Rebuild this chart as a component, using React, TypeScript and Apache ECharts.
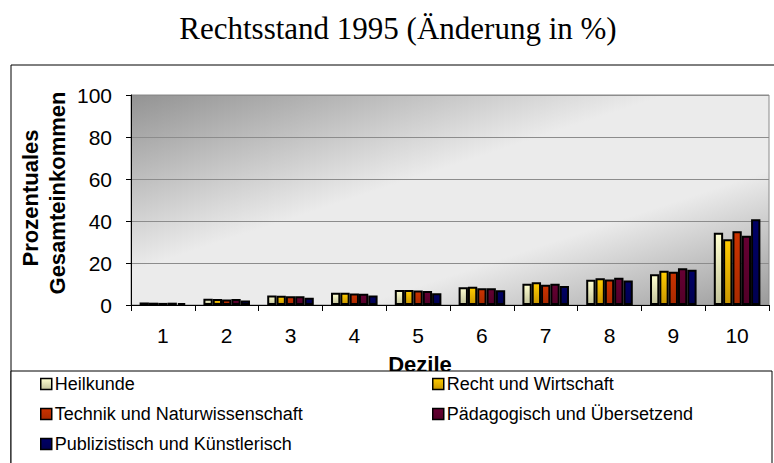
import React, { useEffect, useRef } from "react";
import * as echarts from "echarts";

const categories = ["1", "2", "3", "4", "5", "6", "7", "8", "9", "10"];
const seriesNames = [
  "Heilkunde",
  "Recht und Wirtschaft",
  "Technik und Naturwissenschaft",
  "Pädagogisch und Übersetzend",
  "Publizistisch und Künstlerisch",
];
const heilkunde = [1.2, 3.0, 4.5, 5.8, 7.2, 8.5, 10.1, 12.0, 14.6, 34.4];
const rechtWirtschaft = [1.1, 2.8, 4.4, 5.8, 7.2, 8.7, 10.8, 12.7, 16.3, 31.3];
const technik = [1.0, 2.6, 4.2, 5.5, 6.9, 8.0, 9.7, 12.1, 15.8, 35.1];
const paedagogisch = [1.1, 2.8, 4.2, 5.3, 6.7, 8.0, 10.1, 13.0, 17.5, 33.0];
const publizistisch = [0.9, 2.2, 3.5, 4.5, 5.6, 7.0, 9.0, 11.7, 16.8, 40.8];
const yTicks = [0, 20, 40, 60, 80, 100];

const seriesData = [heilkunde, rechtWirtschaft, technik, paedagogisch, publizistisch];
const colorsTop = ["#ffffd0", "#ffcc00", "#cc3300", "#660033", "#000066"];
const colorsBottom = ["#c4c49c", "#c89600", "#a82a00", "#520028", "#000050"];

const legendPos = [
  { left: 40, top: 373 },
  { left: 432, top: 373 },
  { left: 40, top: 403 },
  { left: 432, top: 403 },
  { left: 40, top: 433 },
];

export default function App() {
  const ref = useRef<HTMLDivElement>(null);
  useEffect(() => {
    document.body.style.margin = "0";
    if (!ref.current) return;
    const chart = echarts.init(ref.current, null, { renderer: "svg" });
    const font = "'Liberation Sans', Arial, sans-serif";
    chart.setOption({
      animation: false,
      backgroundColor: "#ffffff",
      grid: {
        left: 131,
        right: 5,
        top: 95,
        height: 210,
        show: true,
        borderColor: "#8a8a8a",
        borderWidth: 1,
        backgroundColor: new echarts.graphic.LinearGradient(0, 0, 1, 1, [
          { offset: 0, color: "#939393" },
          { offset: 0.42, color: "#ebebeb" },
          { offset: 0.68, color: "#ebebeb" },
          { offset: 1, color: "#9a9a9a" },
        ]),
      },
      xAxis: {
        type: "category",
        data: categories,
        axisLine: { show: true, lineStyle: { color: "#000", width: 1 } },
        axisTick: { show: true, length: 6, lineStyle: { color: "#000" } },
        axisLabel: { color: "#000", fontSize: 21, fontFamily: font, margin: 20 },
      },
      yAxis: {
        type: "value",
        min: 0,
        max: 100,
        interval: 20,
        axisLine: { show: true, lineStyle: { color: "#000", width: 1 } },
        axisTick: { show: true, length: 5, lineStyle: { color: "#000" } },
        axisLabel: {
          color: "#000",
          fontSize: 21,
          fontFamily: font,
          margin: 19,
          formatter: (v: number) => (yTicks.includes(v) ? String(v) : ""),
        },
        splitLine: { show: true, lineStyle: { color: "#8c8c8c", width: 1 } },
      },
      legend: seriesNames.map((n, i) => ({
        data: [n],
        left: legendPos[i].left,
        top: legendPos[i].top,
        orient: "horizontal",
        itemWidth: 11,
        itemHeight: 11,
        icon: "rect",
        padding: 0,
        selectedMode: false,
        itemStyle: { borderColor: "#000", borderWidth: 1.5 },
        textStyle: { color: "#000", fontSize: 18, fontFamily: font, lineHeight: 22, padding: [0, 0, 0, -2] },
      })),
      series: seriesNames.map((n, i) => ({
        name: n,
        type: "bar",
        data: seriesData[i],
        barGap: "0%",
        barCategoryGap: "27%",
        itemStyle: {
          color: new echarts.graphic.LinearGradient(0, 0, 0, 1, [
            { offset: 0, color: colorsTop[i] },
            { offset: 1, color: colorsBottom[i] },
          ]),
          borderColor: "#000",
          borderWidth: 2,
        },
      })),
      graphic: [
        {
          type: "text",
          x: 398,
          y: 28,
          style: {
            text: "Rechtsstand 1995 (Änderung in %)",
            font: "31px 'Liberation Serif', 'Times New Roman', serif",
            fill: "#000",
            align: "center",
            verticalAlign: "middle",
          },
        },
        {
          type: "rect",
          shape: { x: 11, y: 65, width: 900, height: 500 },
          style: { fill: "none", stroke: "#000", lineWidth: 1 },
          silent: true,
          z: -10,
        },
        {
          type: "text",
          x: 30,
          y: 198,
          rotation: Math.PI / 2,
          style: {
            text: "Prozentuales",
            font: "bold 22px 'Liberation Sans', Arial, sans-serif",
            fill: "#000",
            align: "center",
            verticalAlign: "middle",
          },
        },
        {
          type: "text",
          x: 57,
          y: 193,
          rotation: Math.PI / 2,
          style: {
            text: "Gesamteinkommen",
            font: "bold 22px 'Liberation Sans', Arial, sans-serif",
            fill: "#000",
            align: "center",
            verticalAlign: "middle",
          },
        },
        {
          type: "text",
          x: 420,
          y: 364,
          style: {
            text: "Dezile",
            font: "bold 22px 'Liberation Sans', Arial, sans-serif",
            fill: "#000",
            align: "center",
            verticalAlign: "middle",
          },
          z: 1,
        },
        {
          type: "rect",
          shape: { x: 11, y: 371, width: 761, height: 120 },
          style: { fill: "#fff", stroke: "#000", lineWidth: 1 },
          silent: true,
          z: 2,
        },
      ],
    });
    return () => chart.dispose();
  }, []);
  return <div ref={ref} style={{ width: 774, height: 463 }} />;
}
